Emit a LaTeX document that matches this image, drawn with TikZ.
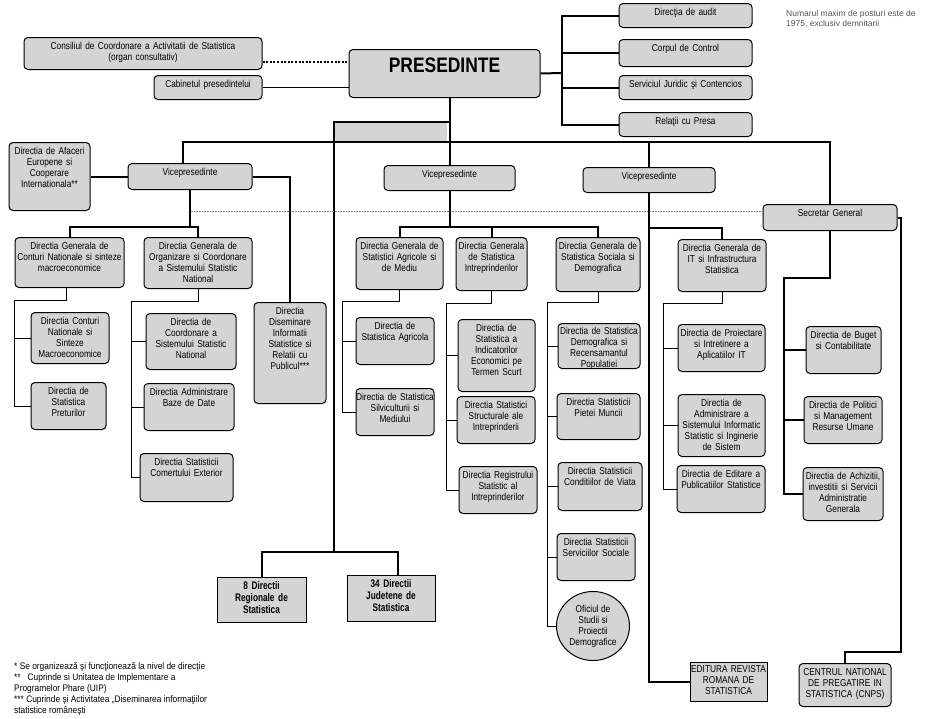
\documentclass[tikz,border=0pt]{standalone}
\usepackage{fontspec}
\setmainfont{Liberation Sans}
\newfontfamily\boxfont[FakeStretch=0.83]{Liberation Sans}
\newfontfamily\narrowbold[FakeStretch=0.75]{Liberation Sans}
\newfontfamily\notefont[FakeStretch=0.88]{Liberation Sans}
\usetikzlibrary{shapes.geometric}
\definecolor{boxgray}{RGB}{212,212,212}
\definecolor{notegray}{RGB}{85,85,85}

\begin{document}
\begin{tikzpicture}[x=1pt, y=-1pt,
      unit/.style={draw, line width=1pt, fill=boxgray, rounded corners=4pt, anchor=north, align=center, inner xsep=0pt, inner ysep=4pt, text height=8pt, font=\boxfont\fontsize{10}{11}\selectfont},
      sq/.style={unit, sharp corners},
      boxsize/.style 2 args={text width=#1pt, text depth=#2pt},
      org/.style={line width=2pt},
      sub/.style={line width=0.8pt},
      consult/.style={line width=2pt, dash pattern=on 2pt off 1.6pt},
      faint/.style={line width=0.6pt, gray, densely dotted}]
      \useasboundingbox (0,0) rectangle (933,718);

      % Conducere
      \node[unit, boxsize={238}{16}] (consil) at (143,37) {Consiliul de Coordonare a Activitatii de Statistica\\(organ consultativ)};
      \node[unit, boxsize={108}{8}] (cabinet) at (208,75) {Cabinetul presedintelui};
      \node[unit, boxsize={191}{18}, text height=16pt, inner ysep=7pt, font=\boxfont\fontsize{21}{24}\selectfont\bfseries] (pres) at (444.5,49) {PRESEDINTE};
      \node[unit, boxsize={133}{8}] (audit) at (685.5,3) {Direcţia de audit};
      \node[unit, boxsize={133}{11}] (control) at (685.5,39) {Corpul de Control};
      \node[unit, boxsize={133}{8}] (juridic) at (685.5,75) {Serviciul Juridic şi Contencios};
      \node[unit, boxsize={133}{8}] (presa) at (685.5,112) {Relaţii cu Presa};
      \node[anchor=north west, inner sep=0pt, align=left, text=notegray, font=\fontsize{8.5}{10}\selectfont] (note) at (786,10) {Numarul maxim de posturi este de\\1975, exclusiv demnitarii};

      % Vicepresedinti
      \node[unit, boxsize={81}{52}] (afaceri) at (49.5,142) {Directia de Afaceri\\Europene si\\Cooperare\\Internationala**};
      \node[unit, boxsize={124}{10}] (vp1) at (190,163) {Vicepresedinte};
      \node[unit, boxsize={131}{9}] (vp2) at (449.5,165) {Vicepresedinte};
      \node[unit, boxsize={132}{9}] (vp3) at (649,167) {Vicepresedinte};
      \node[unit, boxsize={134}{10}] (sg) at (830,204) {Secretar General};

      % Directii generale
      \node[unit, boxsize={109}{34}] (dgconturi) at (69.5,237) {Directia Generala de\\Conturi Nationale si sinteze\\macroeconomice};
      \node[unit, boxsize={108}{35}] (dgorg) at (198,237) {Directia Generala de\\Organizare si Coordonare\\a Sistemului Statistic\\National};
      \node[unit, boxsize={72}{85}] (disem) at (290,302) {Directia\\Diseminare\\Informatii\\Statistice si\\Relatii cu\\Publicul***};
      \node[unit, boxsize={87}{36}] (dgagri) at (399.5,237) {Directia Generala de\\Statistici Agricole si\\de Mediu};
      \node[unit, boxsize={71}{37}] (dgintr) at (491.5,237) {Directia Generala\\de Statistica\\Intreprinderilor};
      \node[unit, boxsize={84}{38}] (dgsoc) at (598,237) {Directia Generala de\\Statistica Sociala si\\Demografica};
      \node[unit, boxsize={88}{36}] (dgit) at (722,239) {Directia Generala de\\IT si Infrastructura\\Statistica};

      % Directii
      \node[unit, boxsize={78}{35}] (dcn) at (70,312) {Directia Conturi\\Nationale si\\Sinteze\\Macroeconomice};
      \node[unit, boxsize={75}{31}] (dpret) at (68.5,382) {Directia de\\Statistica\\Preturilor};
      \node[unit, boxsize={90}{40}] (dcoord) at (191,313) {Directia de\\Coordonare a\\Sistemului Statistic\\National};
      \node[unit, boxsize={90}{31}] (dbaze) at (189,383) {Directia Administrare\\Baze de Date};
      \node[unit, boxsize={93}{32}] (dcomert) at (186.5,453) {Directia Statisticii\\Comertului Exterior};
      \node[unit, boxsize={78}{31}] (dagri) at (395,317) {Directia de\\Statistica Agricola};
      \node[unit, boxsize={78}{31}] (dsilv) at (395,388) {Directia de Statistica\\Silviculturii si\\Mediului};
      \node[unit, boxsize={77}{56}] (dindic) at (496.5,319) {Directia de\\Statistica a\\Indicatorilor\\Economici pe\\Termen Scurt};
      \node[unit, boxsize={78}{31}] (dstruct) at (496,396) {Directia Statistici\\Structurale ale\\Intreprinderii};
      \node[unit, boxsize={78}{31}] (dregistru) at (498,466) {Directia Registrului\\Statistic al\\Intreprinderilor};
      \node[unit, boxsize={82}{30.5}, text height=6.5pt] (ddemo) at (599,323) {Directia de Statistica\\Demografica si\\Recensamantul\\Populatiei};
      \node[unit, boxsize={83}{30}] (dmunca) at (598.5,393) {Directia Statisticii\\Pietei Muncii};
      \node[unit, boxsize={84}{32}] (dviata) at (600,462) {Directia Statisticii\\Conditiilor de Viata};
      \node[unit, boxsize={78}{31}] (dsociale) at (596,533) {Directia Statisticii\\Serviciilor Sociale};
      \node[ellipse, draw, line width=1pt, fill=boxgray, minimum width=73pt, minimum height=69pt, inner sep=0pt, align=center, font=\boxfont\fontsize{10}{11}\selectfont] (oficiu) at (593,626) {Oficiul de\\Studii si\\Proiectii\\Demografice};
      \node[unit, boxsize={87}{31}] (dproiect) at (721.5,324) {Directia de Proiectare\\si Intretinere a\\Aplicatiilor IT};
      \node[unit, boxsize={87}{46}] (dadmin) at (721.5,394) {Directia de\\Administrare a\\Sistemului Informatic\\Statistic si Inginerie\\de Sistem};
      \node[unit, boxsize={88}{31}] (deditare) at (721,465) {Directia de Editare a\\Publicatiilor Statistice};
      \node[unit, boxsize={75}{31}] (dbuget) at (843.5,326) {Directia de Buget\\si Contabilitate};
      \node[unit, boxsize={78}{31}] (dresurse) at (843,396) {Directia de Politici\\si Management\\Resurse Umane};
      \node[unit, boxsize={80}{37}] (dachiz) at (843,467) {Directia de Achizitii,\\investitii si Servicii\\Administratie\\Generala};

      % Unitati subordonate
      \node[sq, boxsize={89}{29}, font=\narrowbold\fontsize{11}{12}\selectfont\bfseries] (reg8) at (261.5,577) {8 Directii\\Regionale de\\Statistica};
      \node[sq, boxsize={88}{30}, font=\narrowbold\fontsize{11}{12}\selectfont\bfseries] (jud34) at (391,575) {34 Directii\\Judetene de\\Statistica};
      \node[sq, boxsize={77}{25}, text height=6pt] (editura) at (728.5,662) {EDITURA REVISTA\\ROMANA DE\\STATISTICA};
      \node[unit, boxsize={92}{27}] (cnps) at (845,663) {CENTRUL NATIONAL\\DE PREGATIRE IN\\STATISTICA (CNPS)};

      % Note
      \node[anchor=north west, inner sep=0pt, align=left, font=\notefont\fontsize{9.5}{11}\selectfont] (notes) at (14,662) {* Se organizează şi funcţionează la nivel de direcţie\\**\ \ \ Cuprinde si Unitatea de Implementare a\\Programelor Phare (UIP)\\*** Cuprinde şi Activitatea „Diseminarea informaţiilor\\statistice româneşti};

      % Legaturi presedinte
      \draw[consult] ([yshift=-8pt]consil.east) -- ([yshift=-8pt]consil.east -| pres.west);
      \draw[sub] (cabinet.east) -- (cabinet.east -| pres.west);
      \coordinate (staff) at (562,73);
      \draw[org] (pres.east) -- (staff);
      \foreach \n in {audit,control,juridic,presa}
        \draw[org] (\n.west) -| (staff);
      \draw[org] (pres.south -| vp2.north) -- (vp2.north);

      % Directii teritoriale
      \coordinate (terr) at (334,122);
      \coordinate (terrbus) at (334,552);
      \fill[boxgray] (terr) rectangle (447,141);
      \draw[org] (terr -| vp2.north) -- (terr) -- (terrbus);
      \draw[org] (reg8.north) |- (terrbus) -| ([xshift=7pt]jud34.north);

      % Linia principala
      \coordinate (mainbus) at (0,142);
      \draw[org] ([xshift=-7pt]vp1.north) |- (mainbus -| sg.north) -- (sg.north);
      \draw[org] (vp3.north) -- (vp3.north |- mainbus);
      \draw[faint] ([yshift=6pt]sg.west) -- ([yshift=6pt]sg.west -| vp1.south);

      % Vicepresedinte 1
      \draw[org] (afaceri.east |- vp1.west) -- (vp1.west);
      \draw[org] (vp1.east) -| (disem.north);
      \draw[org] (vp1.south) -- ++(0,37) -| (dgconturi.north);
      \draw[org] (vp1.south) -- ++(0,37) -| (dgorg.north);
      \coordinate (b1) at (14,300);
      \draw[sub] ([xshift=-3pt]dgconturi.south) |- (b1) |- (dpret.west);
      \draw[sub] (dcn.west) -- (dcn.west -| b1);
      \coordinate (b2) at (131,301);
      \draw[sub] (dgorg.south) |- (b2) |- (dcomert.west);
      \foreach \n in {dcoord,dbaze}
        \draw[sub] (\n.west) -- (\n.west -| b2);

      % Vicepresedinte 2
      \foreach \n in {dgagri,dgintr,dgsoc}
        \draw[org] (vp2.south) -- ++(0,36) -| (\n.north);
      \coordinate (b3) at (342,301);
      \draw[sub] (dgagri.south) |- (b3) |- (dsilv.west);
      \draw[sub] (dagri.west) -- (dagri.west -| b3);
      \coordinate (b4) at (446,303);
      \draw[sub] (dgintr.south) |- (b4) |- (dregistru.west);
      \foreach \n in {dindic,dstruct}
        \draw[sub] (\n.west) -- (\n.west -| b4);
      \coordinate (b5) at (547,302);
      \draw[sub] (dgsoc.south) |- (b5) |- (oficiu.west);
      \foreach \n in {ddemo,dmunca,dviata,dsociale}
        \draw[sub] (\n.west) -- (\n.west -| b5);

      % Vicepresedinte 3
      \draw[org] (vp3.south) -- ++(0,35) -| (dgit.north);
      \draw[org] (vp3.south) |- (editura.west);
      \coordinate (b6) at (663,303);
      \draw[sub] (dgit.south) |- (b6) |- (deditare.west);
      \foreach \n in {dproiect,dadmin}
        \draw[sub] (\n.west) -- (\n.west -| b6);

      % Secretar general
      \coordinate (b7) at (784,278);
      \draw[org] (sg.south) |- (b7) |- (dachiz.west);
      \foreach \n in {dbuget,dresurse}
        \draw[org] (\n.west) -- (\n.west -| b7);
      \draw[org] (sg.east) -- ++(3,0) |- ([yshift=11pt]cnps.north) -- (cnps.north);
    \end{tikzpicture}
\end{document}
